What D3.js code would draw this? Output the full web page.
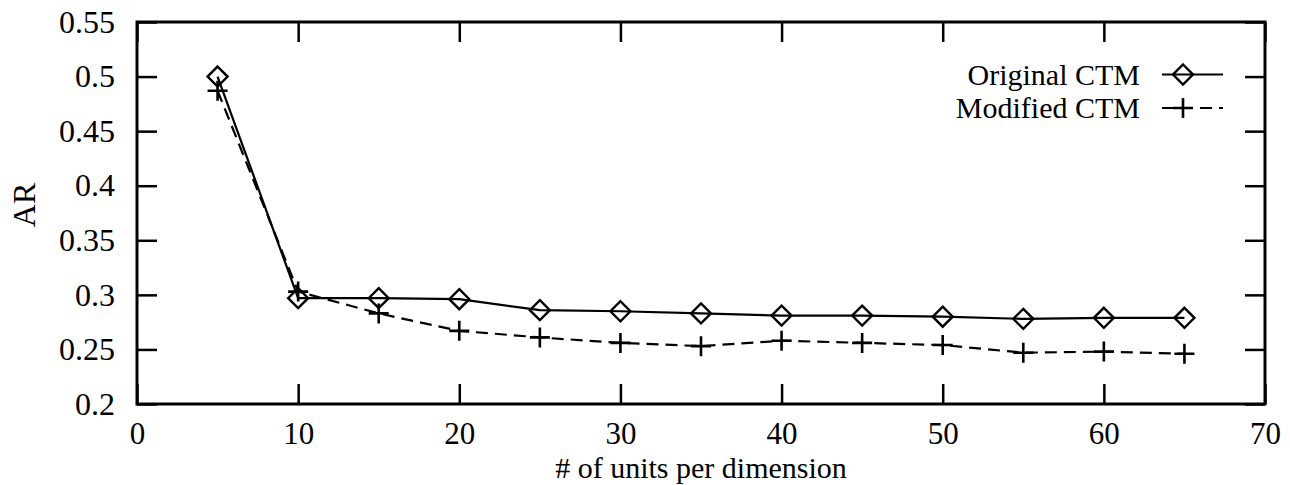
<!DOCTYPE html>
<html>
<head>
<meta charset="utf-8">
<script src="https://cdn.jsdelivr.net/npm/d3@7"></script>
<style>
  body { margin: 0; background: #fff; }
  text { font-family: 'Liberation Serif', 'Times New Roman', serif; fill: #000; }
</style>
</head>
<body>
<div id="chart"></div>
<script>

const units = [5, 10, 15, 20, 25, 30, 35, 40, 45, 50, 55, 60, 65];
const originalCTM = [0.500, 0.297, 0.297, 0.296, 0.286, 0.285, 0.283, 0.281, 0.281, 0.280, 0.278, 0.279, 0.279];
const modifiedCTM = [0.487, 0.303, 0.283, 0.267, 0.261, 0.256, 0.253, 0.258, 0.256, 0.254, 0.247, 0.248, 0.246];

const xTicks = [0, 10, 20, 30, 40, 50, 60, 70];
const yTicks = [0.2, 0.25, 0.3, 0.35, 0.4, 0.45, 0.5, 0.55];
const seriesNames = ['Original CTM', 'Modified CTM'];

const width = 1290;
const height = 485;
const plotLeft = 137, plotRight = 1265, plotTop = 22, plotBottom = 404;
const fontSize = 32;

let svg = d3.select('#chart').append('svg')
  .attr('width', width)
  .attr('height', height);

let x = d3.scaleLinear().domain([0, 70]).range([plotLeft, plotRight]);
let y = d3.scaleLinear().domain([0.2, 0.55]).range([plotBottom, plotTop]);

// Axes, ticks point inward on all four sides
let xAxis = svg.append('g')
  .attr('transform', 'translate(0,' + plotBottom + ')')
  .call(d3.axisBottom(x).tickValues(xTicks).tickFormat(d3.format('d'))
    .tickSizeInner(-20).tickSizeOuter(0).tickPadding(17.5));

let yAxis = svg.append('g')
  .attr('transform', 'translate(' + plotLeft + ',0)')
  .call(d3.axisLeft(y).tickValues(yTicks).tickFormat(d => String(+d.toFixed(2)))
    .tickSizeInner(-20).tickSizeOuter(0).tickPadding(22));

let topAxis = svg.append('g')
  .attr('transform', 'translate(0,' + plotTop + ')')
  .call(d3.axisTop(x).tickValues(xTicks).tickFormat('').tickSizeInner(-20).tickSizeOuter(0));

let rightAxis = svg.append('g')
  .attr('transform', 'translate(' + plotRight + ',0)')
  .call(d3.axisRight(y).tickValues(yTicks).tickFormat('').tickSizeInner(-20).tickSizeOuter(0));

for (let g of [xAxis, yAxis, topAxis, rightAxis]) {
  g.select('.domain').remove();
  g.selectAll('line').attr('stroke', '#000').attr('stroke-width', 2.5);
  g.selectAll('text')
    .style('font-family', "'Liberation Serif', serif")
    .attr('font-size', fontSize)
    .attr('fill', '#000');
}
xAxis.selectAll('text').attr('font-size', 31);

// Frame
svg.append('rect')
  .attr('x', plotLeft)
  .attr('y', plotTop)
  .attr('width', plotRight - plotLeft)
  .attr('height', plotBottom - plotTop)
  .attr('fill', 'none')
  .attr('stroke', '#000')
  .attr('stroke-width', 3);

// Axis titles
svg.append('text')
  .text('# of units per dimension')
  .attr('x', (plotLeft + plotRight) / 2)
  .attr('y', 478)
  .attr('text-anchor', 'middle')
  .attr('font-size', 30);

svg.append('text')
  .text('AR')
  .attr('transform', 'translate(35,205) rotate(-90)')
  .attr('text-anchor', 'middle')
  .attr('font-size', fontSize);

// Series
let makeLine = d3.line().x(d => x(d[0])).y(d => y(d[1]));
let origPts = units.map((u, i) => [u, originalCTM[i]]);
let modPts = units.map((u, i) => [u, modifiedCTM[i]]);

svg.append('path')
  .attr('d', makeLine(origPts))
  .attr('fill', 'none')
  .attr('stroke', '#000')
  .attr('stroke-width', 2.2);

svg.append('path')
  .attr('d', makeLine(modPts))
  .attr('fill', 'none')
  .attr('stroke', '#000')
  .attr('stroke-width', 2.2)
  .attr('stroke-dasharray', '12,7');

function diamond(g, cx, cy) {
  let r = 10;
  g.append('path')
    .attr('d', 'M' + cx + ',' + (cy - r) + 'L' + (cx + r) + ',' + cy + 'L' + cx + ',' + (cy + r) + 'L' + (cx - r) + ',' + cy + 'Z')
    .attr('fill', 'none')
    .attr('stroke', '#000')
    .attr('stroke-width', 2.4);
}

function plus(g, cx, cy) {
  let r = 10;
  g.append('path')
    .attr('d', 'M' + (cx - r) + ',' + cy + 'H' + (cx + r) + 'M' + cx + ',' + (cy - r) + 'V' + (cy + r))
    .attr('fill', 'none')
    .attr('stroke', '#000')
    .attr('stroke-width', 2.6);
}

let marks = svg.append('g');
for (let p of origPts) diamond(marks, x(p[0]), y(p[1]));
for (let p of modPts) plus(marks, x(p[0]), y(p[1]));

// Legend
let legendRows = [74.5, 108];
for (let i = 0; i < seriesNames.length; i++) {
  let ly = legendRows[i];
  svg.append('text')
    .text(seriesNames[i])
    .attr('x', 1140)
    .attr('y', ly + 10)
    .attr('text-anchor', 'end')
    .attr('font-size', 30);

  let sample = svg.append('line')
    .attr('x1', 1162)
    .attr('x2', 1223)
    .attr('y1', ly)
    .attr('y2', ly)
    .attr('stroke', '#000')
    .attr('stroke-width', 2.2);
  if (i === 0) {
    diamond(svg, 1183, ly);
  } else {
    sample.attr('stroke-dasharray', '12,7');
    plus(svg, 1183, ly);
  }
}
</script>
</body>
</html>
